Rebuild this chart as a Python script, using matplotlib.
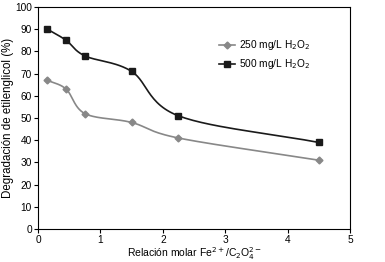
import numpy as np
import matplotlib
matplotlib.use("Agg")
import matplotlib.pyplot as plt

x = [0.15, 0.45, 0.75, 1.5, 2.25, 4.5]
y250 = [67, 63, 52, 48, 41, 31]
y500 = [90, 85, 78, 71, 51, 39]
labels = ["250 mg/L H$_2$O$_2$", "500 mg/L H$_2$O$_2$"]

def smooth(xs, ys, n=30):
    xs = np.asarray(xs, float); ys = np.asarray(ys, float)
    px = np.concatenate([[2*xs[0]-xs[1]], xs, [2*xs[-1]-xs[-2]]])
    py = np.concatenate([[2*ys[0]-ys[1]], ys, [2*ys[-1]-ys[-2]]])
    ox, oy = [], []
    for i in range(1, len(px)-2):
        p0, p1, p2, p3 = [np.array([px[j], py[j]]) for j in (i-1, i, i+1, i+2)]
        c1 = p1 + (p2 - p0) / 6
        c2 = p2 - (p3 - p1) / 6
        t = np.linspace(0, 1, n)[:, None]
        b = (1-t)**3*p1 + 3*(1-t)**2*t*c1 + 3*(1-t)*t**2*c2 + t**3*p2
        ox.extend(b[:, 0]); oy.extend(b[:, 1])
    return ox, oy

plt.rcParams['font.family'] = ['Liberation Sans', 'DejaVu Sans']
fig = plt.figure(figsize=(3.85, 2.62), dpi=100)
ax = fig.add_axes([0.099, 0.126, 0.81, 0.847])

sx, sy = smooth(x, y250)
ax.plot(sx, sy, color='#888888', lw=1.2)
ax.plot(x, y250, linestyle='none', marker='D', ms=3.5, color='#888888')
sx, sy = smooth(x, y500)
ax.plot(sx, sy, color='#1a1a1a', lw=1.2)
ax.plot(x, y500, linestyle='none', marker='s', ms=4.5, color='#1a1a1a')

ax.plot([], [], color='#888888', lw=1.2, marker='D', ms=3.5, label=labels[0])
ax.plot([], [], color='#1a1a1a', lw=1.2, marker='s', ms=4.5, label=labels[1])
ax.legend(loc='upper right', bbox_to_anchor=(0.90, 0.90), frameon=False,
          fontsize=7.3, handlelength=1.5, handletextpad=0.4, labelspacing=0.5)

ax.set_xlim(0, 5)
ax.set_ylim(0, 100)
ax.set_xticks([0, 1, 2, 3, 4, 5])
ax.set_yticks(range(0, 101, 10))
ax.tick_params(direction='out', length=3, width=0.8, labelsize=7.3, pad=1.5)
for s in ax.spines.values():
    s.set_linewidth(0.8)
ax.set_xlabel("Relación molar Fe$^{2+}$/C$_2$O$_4^{2-}$", fontsize=7.5, labelpad=0)
ax.set_ylabel("Degradación de etilenglicol (%)", fontsize=8.3, labelpad=1)

fig.savefig("out.png", dpi=100)
